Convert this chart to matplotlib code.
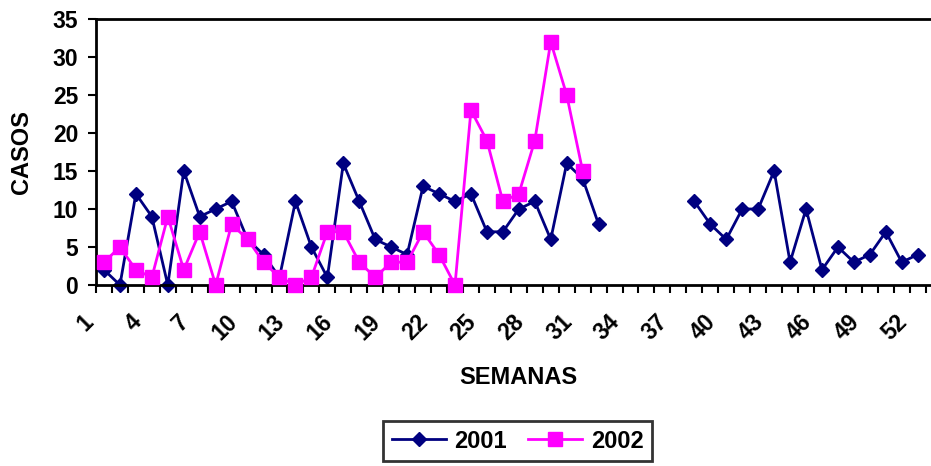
import numpy as np
import matplotlib.pyplot as plt
from matplotlib.transforms import ScaledTranslation

plt.rcParams['font.family'] = ['Liberation Sans', 'DejaVu Sans']
plt.rcParams['font.weight'] = 'bold'

# semanas 1..52
semanas = list(range(1, 53))

# casos 2001 (semanas 33-37 sin dato)
casos_2001 = [2, 0, 12, 9, 0, 15, 9, 10, 11, 6, 4, 1, 11, 5, 1, 16,
              11, 6, 5, 4, 13, 12, 11, 12, 7, 7, 10, 11, 6, 16, 14, 8,
              None, None, None, None, None,
              11, 8, 6, 10, 10, 15, 3, 10, 2, 5, 3, 4, 7, 3, 4]

# casos 2002 (solo hasta semana 31)
casos_2002 = [3, 5, 2, 1, 9, 2, 7, 0, 8, 6, 3, 1, 0, 1, 7, 7,
              3, 1, 3, 3, 7, 4, 0, 23, 19, 11, 12, 19, 32, 25, 15]

etiquetas_x = list(range(1, 53, 3))

y01 = np.array([np.nan if v is None else v for v in casos_2001], dtype=float)
y02 = np.array(casos_2002, dtype=float)

fig = plt.figure(figsize=(9.31, 4.66), dpi=100)
ax = fig.add_axes([96 / 931, 1 - 285 / 466, 1 - 96 / 931, (285 - 19) / 466])

ax.plot(semanas, y01, color='#000080', linewidth=2, marker='D', markersize=7.2,
        label='2001', clip_on=False, zorder=2)
ax.plot(semanas[:len(y02)], y02, color='#FF00FF', linewidth=2, marker='s', markersize=9.5,
        label='2002', clip_on=False, zorder=3)

ax.set_ylim(0, 35)
ax.set_yticks(range(0, 36, 5))
ax.set_xlim(0.5, 52.5 + 5.3 / 15.96)

# ticks entre categorias
ax.set_xticks(np.arange(0.5, 53, 1))
ax.set_xticklabels([])
ax.tick_params(axis='x', direction='out', length=5.8, width=1.5)
ax.tick_params(axis='y', direction='out', length=5.8, width=1.5, labelsize=16.5, pad=7)

# etiquetas cada 3 semanas, giradas 45 grados
desplaz = ScaledTranslation(-16 / 72, -18 / 72, fig.dpi_scale_trans)
for s in etiquetas_x:
    ax.text(s, 0, str(s), transform=ax.get_xaxis_transform() + desplaz,
            rotation=45, ha='right', va='top', rotation_mode='anchor',
            fontsize=16.5, fontweight='bold')

for lado in ['left', 'bottom', 'top']:
    ax.spines[lado].set_linewidth(2)
ax.spines['right'].set_visible(False)

ax.set_ylabel('CASOS', fontsize=17, fontweight='bold')
ax.yaxis.set_label_coords(-0.075, 0.501)
ax.set_xlabel('SEMANAS', fontsize=17, fontweight='bold')
ax.xaxis.set_label_coords(0.506, -0.305)

leg = fig.legend(loc='center', bbox_to_anchor=(517.5 / 931, 1 - 441 / 466), ncol=2,
                 frameon=True, fancybox=False, fontsize=17, handlelength=2.3,
                 columnspacing=0.9, handletextpad=0.35, borderpad=0.35)
leg.get_frame().set_edgecolor('black')
leg.get_frame().set_linewidth(2)

fig.savefig('out.png', dpi=100)
